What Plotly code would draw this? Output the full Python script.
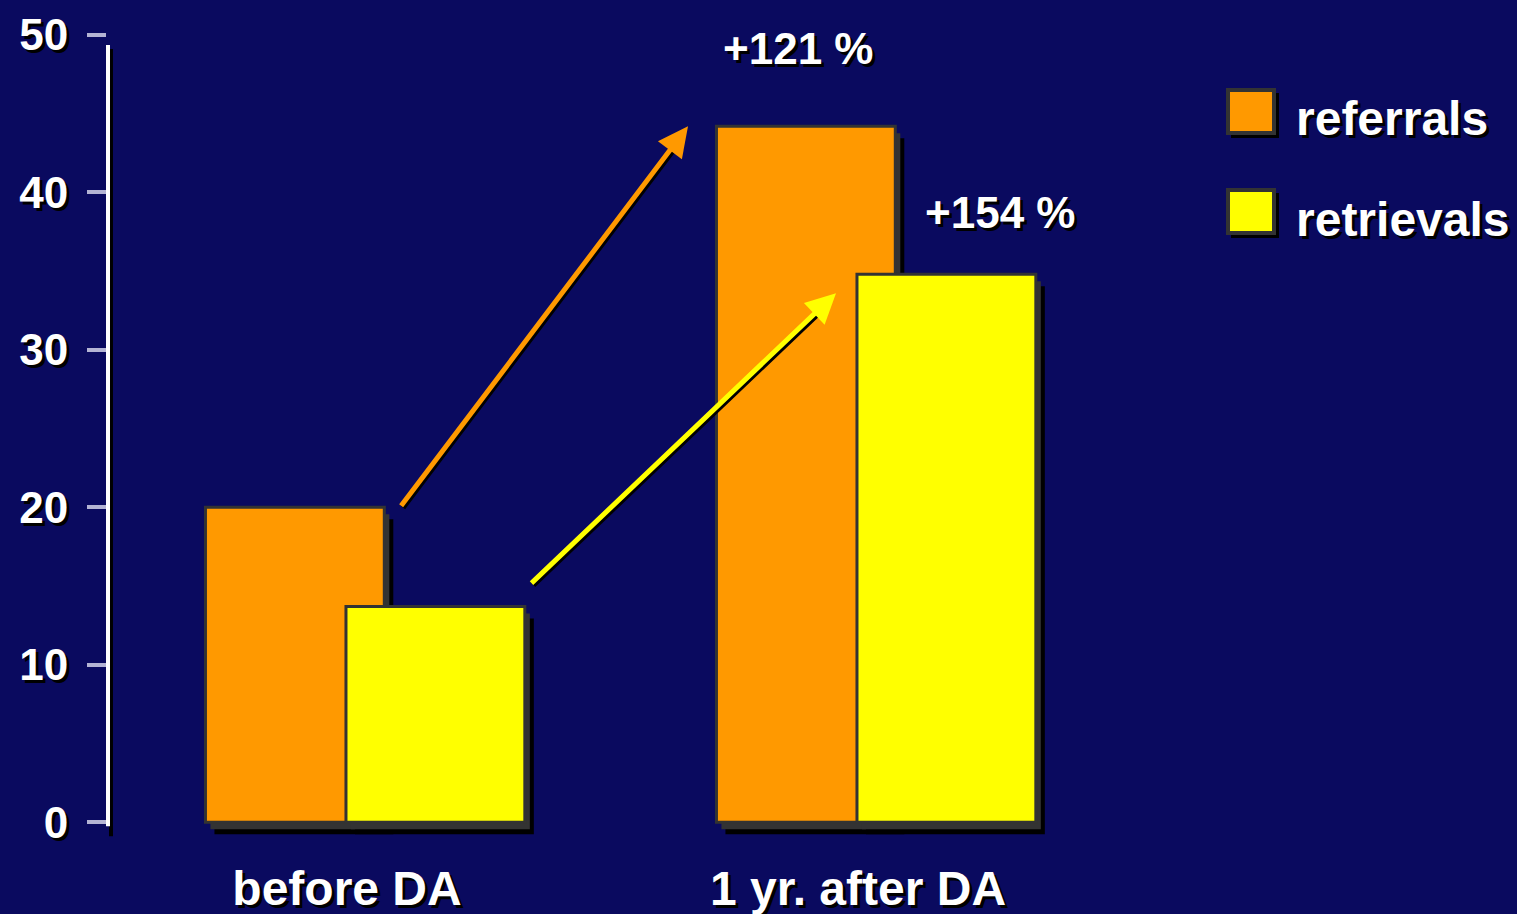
import plotly.graph_objects as go

# ---------------- data ----------------
categories = ["before DA", "1 yr. after DA"]
referrals = [20.0, 44.2]
retrievals = [13.7, 34.8]
change_labels = ["+121 %", "+154 %"]
series_names = ["referrals", "retrievals"]
y_ticks = [0, 10, 20, 30, 40, 50]

# ---------------- style ----------------
BG = "#0a0a5f"
ORANGE = "#ff9900"
YELLOW = "#ffff00"
EDGE = "#333333"
FONT = "Liberation Sans, Arial, sans-serif"
SHADOW = "3px 3px 0px #000000"

W, H = 1517, 914
L, R, T, B = 107, 0, 35, 76
PW = W - L - R
PH = H - T - B
Y_MIN, Y_MAX = -1, 50
PXU = PH / (Y_MAX - Y_MIN)          # pixels per y unit
CAT_PX = 511                          # pixels per category step
CAT0_PX = 347                         # pixel centre of first category
X_RANGE = [(L - CAT0_PX) / CAT_PX, (W - R - CAT0_PX) / CAT_PX]

BAR_W = 0.35
REF_OFF = -0.277
RET_OFF = -0.002


def dy(p):
    return p / PXU


def dx(p):
    return p / CAT_PX


def paper_x(p):
    return (p - L) / PW


def paper_y(p):
    return (H - B - p) / PH


fig = go.Figure()


def add_series(values, color, offset, name):
    # 3D-looking drop shadows (black then dark grey), then the bar itself
    fig.add_trace(go.Bar(x=categories, y=values, base=-dy(12), width=BAR_W,
                         offset=offset + dx(9), marker=dict(color="#000000", line=dict(width=0)),
                         hoverinfo="skip", showlegend=False))
    fig.add_trace(go.Bar(x=categories, y=values, base=-dy(7), width=BAR_W,
                         offset=offset + dx(5), marker=dict(color=EDGE, line=dict(width=0)),
                         hoverinfo="skip", showlegend=False))
    fig.add_trace(go.Bar(x=categories, y=values, base=0, width=BAR_W, offset=offset,
                         name=name, marker=dict(color=color, line=dict(color=EDGE, width=3)),
                         showlegend=False))


add_series(referrals, ORANGE, REF_OFF, series_names[0])
add_series(retrievals, YELLOW, RET_OFF, series_names[1])

annotations = []

# growth arrows
arrows = [
    dict(tail=(dx(400 - CAT0_PX), referrals[0]), head=(dx(688 - CAT0_PX), referrals[1]), color=ORANGE),
    dict(tail=(dx(530 - CAT0_PX), retrievals[0] + 1.4), head=(1 + dx(836 - 858), retrievals[1] - 1.2), color=YELLOW),
]
for a in arrows:
    for col, sh, head in (("#000000", 2, 0), (a["color"], 0, 2)):
        annotations.append(dict(
            x=a["head"][0], y=a["head"][1], ax=a["tail"][0], ay=a["tail"][1],
            xref="x", yref="y", axref="x", ayref="y", text="",
            showarrow=True, arrowhead=head, arrowsize=1.2, arrowwidth=5,
            arrowcolor=col, standoff=0 if head else 12, xshift=sh, yshift=-sh))

# percentage labels
label_pos = [(1 + dx(798 - 858), referrals[1] + dy(78)), (1 + dx(1000 - 858), retrievals[1] + dy(62))]
for txt, (lx, ly) in zip(change_labels, label_pos):
    annotations.append(dict(x=lx, y=ly, xref="x", yref="y", text=txt, showarrow=False,
                            xanchor="center", yanchor="middle",
                            font=dict(family=FONT, size=44, color="white", weight="bold", shadow=SHADOW)))

# legend (drawn by hand so the swatches can be large)
shapes = []
legend_rows = [(series_names[0], ORANGE, 89), (series_names[1], YELLOW, 189)]
for name, col, top in legend_rows:
    shapes.append(dict(type="rect", xref="paper", yref="paper",
                       x0=paper_x(1231), x1=paper_x(1279), y0=paper_y(top + 4), y1=paper_y(top + 49),
                       fillcolor="#000000", line=dict(width=0), layer="above"))
    shapes.append(dict(type="rect", xref="paper", yref="paper",
                       x0=paper_x(1228), x1=paper_x(1274), y0=paper_y(top + 1), y1=paper_y(top + 44),
                       fillcolor=col, line=dict(color=EDGE, width=4), layer="above"))
    annotations.append(dict(x=paper_x(1294), y=paper_y(top + 30), xref="paper", yref="paper",
                            text=name, showarrow=False, xanchor="left", yanchor="middle",
                            font=dict(family=FONT, size=48, color="white", weight="bold", shadow=SHADOW)))

# y axis line with drop shadow
shapes.append(dict(type="line", xref="paper", yref="y", x0=paper_x(111), x1=paper_x(111),
                   y0=-dy(14), y1=Y_MAX - dy(14), line=dict(color="#000000", width=4), layer="above"))
shapes.append(dict(type="line", xref="paper", yref="y", x0=paper_x(108), x1=paper_x(108),
                   y0=-dy(4), y1=Y_MAX - dy(10), line=dict(color="#ffffff", width=4), layer="above"))

fig.update_layout(
    width=W, height=H,
    margin=dict(l=L, r=R, t=T, b=B, pad=0),
    paper_bgcolor=BG, plot_bgcolor=BG,
    barmode="overlay",
    showlegend=False,
    annotations=annotations,
    shapes=shapes,
    xaxis=dict(type="category", range=X_RANGE, showgrid=False, zeroline=False, showline=False,
               ticks="", ticklabelstandoff=18,
               tickfont=dict(family=FONT, size=48, color="white", weight="bold", shadow=SHADOW)),
    yaxis=dict(range=[Y_MIN, Y_MAX], tickvals=y_ticks, showgrid=False, zeroline=False, showline=False,
               ticks="outside", ticklen=19, tickwidth=4, tickcolor="#b4b4d4", ticklabelstandoff=10,
               tickfont=dict(family=FONT, size=44, color="white", weight="bold", shadow=SHADOW)),
)

fig.write_html(
    "out.html",
    config={"displayModeBar": False},
    post_script="document.body.style.margin='0';document.body.style.overflow='hidden';"
                "document.body.style.background='" + BG + "';",
)
